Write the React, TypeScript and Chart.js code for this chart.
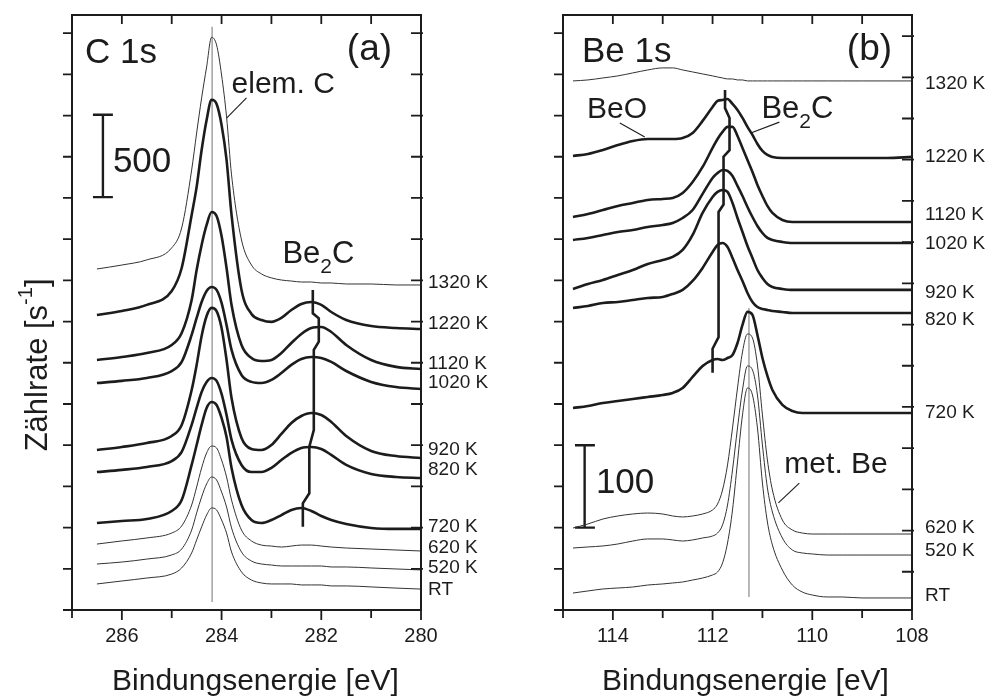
import React, { useEffect, useRef } from "react";
import { Chart, registerables } from "chart.js";

Chart.register(...registerables);

const FONT = "'Liberation Sans', Arial, Helvetica, sans-serif";
const INK = "#1c1c1c";

// ---------------- Panel (a): C 1s ----------------
const energyC = [286.5, 286.0, 285.5, 285.0, 284.8, 284.6, 284.5, 284.4, 284.3, 284.2, 284.1, 284.0, 283.9, 283.8, 283.6, 283.4, 283.2, 283.0, 282.8, 282.6, 282.4, 282.2, 282.0, 281.8, 281.5, 281.0, 280.5, 280.0];
const c1sRT = [158, 176, 194, 218, 255, 346, 425, 504, 576, 619, 607, 546, 467, 352, 231, 182, 164, 158, 158, 158, 152, 152, 152, 146, 146, 140, 133, 127];
const c1s520 = [279, 291, 309, 334, 370, 485, 589, 686, 765, 807, 789, 716, 625, 498, 352, 297, 279, 273, 267, 267, 267, 267, 267, 261, 261, 255, 249, 243];
const c1s620 = [400, 419, 437, 467, 510, 637, 746, 862, 953, 995, 983, 910, 807, 667, 485, 419, 394, 388, 382, 388, 394, 394, 388, 382, 376, 370, 364, 358];
const c1s720 = [528, 540, 552, 601, 667, 880, 1001, 1123, 1226, 1262, 1244, 1165, 1050, 862, 637, 546, 528, 546, 576, 607, 619, 601, 570, 546, 522, 498, 492, 492];
const c1s820 = [837, 850, 868, 904, 959, 1123, 1226, 1323, 1384, 1408, 1390, 1311, 1183, 1032, 880, 837, 837, 862, 910, 953, 983, 989, 977, 941, 880, 825, 807, 801];
const c1s920 = [971, 989, 1013, 1056, 1123, 1335, 1487, 1663, 1784, 1833, 1814, 1711, 1517, 1286, 1044, 977, 971, 1001, 1068, 1135, 1177, 1195, 1183, 1141, 1056, 965, 934, 922];
const c1s1020 = [1377, 1390, 1408, 1450, 1505, 1669, 1772, 1869, 1936, 1960, 1942, 1863, 1729, 1578, 1426, 1384, 1377, 1396, 1438, 1487, 1523, 1535, 1529, 1505, 1450, 1384, 1353, 1341];
const c1s1120 = [1517, 1535, 1559, 1608, 1681, 1881, 2063, 2215, 2336, 2415, 2391, 2269, 2075, 1851, 1608, 1529, 1511, 1517, 1559, 1620, 1675, 1711, 1717, 1687, 1608, 1517, 1475, 1462];
const c1s1220 = [1790, 1814, 1851, 1936, 2075, 2397, 2567, 2791, 2973, 3095, 3070, 2943, 2731, 2397, 1942, 1796, 1760, 1748, 1772, 1820, 1857, 1869, 1851, 1808, 1760, 1723, 1711, 1705];
const c1s1320 = [2069, 2093, 2124, 2197, 2318, 2670, 2894, 3107, 3295, 3475, 3428, 3246, 2992, 2640, 2245, 2093, 2039, 2015, 2002, 1996, 1990, 1990, 1984, 1984, 1978, 1978, 1972, 1972];

// Be2C peak-position marker (a)
const markerCE = [282.37, 282.37, 282.24, 282.24, 282.15, 282.15, 282.05, 282.05, 282.17, 282.17];
const markerCY = [505, 647, 708, 991, 1092, 1578, 1628, 1770, 1800, 1942];

// ---------------- Panel (b): Be 1s ----------------
const energyBe = [114.8, 114.5, 114.2, 113.9, 113.6, 113.3, 113.0, 112.8, 112.6, 112.4, 112.2, 112.0, 111.9, 111.8, 111.7, 111.6, 111.5, 111.4, 111.3, 111.2, 111.1, 111.0, 110.9, 110.8, 110.6, 110.4, 110.2, 110.0, 109.7, 109.4, 109.0, 108.5, 108.0];
const be1sRT = [20.6, 23.1, 25.5, 26.7, 27.9, 30.3, 31.6, 32.8, 34.0, 36.4, 38.8, 42.5, 46.1, 57.0, 81.3, 121.4, 179.6, 236.7, 269.4, 260.9, 220.9, 154.1, 106.8, 78.9, 48.5, 30.3, 21.8, 18.2, 15.8, 15.8, 14.6, 14.6, 14.6];
const be1s520 = [75.2, 76.5, 77.7, 80.1, 83.7, 86.2, 86.2, 85.0, 83.7, 85.0, 87.4, 89.8, 93.4, 103.2, 127.4, 169.9, 220.9, 267.0, 296.1, 291.3, 260.9, 200.2, 148.1, 118.9, 87.4, 72.8, 69.2, 68.0, 66.7, 66.7, 66.7, 66.7, 66.7];
const be1s620 = [99.5, 104.4, 110.4, 114.1, 116.5, 117.7, 116.5, 114.1, 112.9, 114.1, 116.5, 121.4, 128.6, 145.6, 176.0, 220.9, 269.4, 313.1, 335.0, 330.1, 297.3, 236.7, 182.0, 145.6, 109.2, 97.1, 93.4, 92.2, 92.2, 92.2, 92.2, 92.2, 92.2];
const be1s720 = [245.1, 247.6, 251.2, 253.6, 256.1, 258.5, 260.9, 263.4, 269.4, 282.8, 296.1, 303.4, 304.6, 303.4, 305.8, 309.5, 324.0, 345.9, 361.7, 358.0, 333.7, 305.8, 284.0, 267.0, 248.8, 241.5, 239.1, 239.1, 239.1, 239.1, 239.1, 239.1, 239.1];
const be1s820 = [366.5, 368.9, 372.6, 373.8, 376.2, 378.6, 379.9, 383.5, 388.4, 399.3, 415.1, 434.5, 443.0, 445.4, 440.5, 427.2, 412.6, 399.3, 384.7, 373.8, 367.7, 365.3, 364.1, 362.9, 361.7, 360.4, 360.4, 360.4, 360.4, 360.4, 360.4, 360.4, 360.4];
const be1s920 = [389.6, 395.6, 400.5, 406.6, 412.6, 419.9, 424.8, 428.4, 436.9, 455.1, 481.8, 501.2, 507.3, 509.7, 507.3, 493.9, 475.7, 458.7, 441.8, 427.2, 412.6, 402.9, 395.6, 392.0, 389.6, 388.4, 388.4, 388.4, 388.4, 388.4, 388.4, 388.4, 388.4];
const be1s1020 = [449.0, 451.5, 455.1, 458.7, 461.2, 464.8, 467.2, 469.7, 475.7, 485.4, 504.9, 524.3, 530.3, 534.0, 532.8, 526.7, 514.6, 502.4, 489.1, 476.9, 466.0, 457.5, 451.5, 449.0, 446.6, 445.4, 445.4, 445.4, 445.4, 445.4, 445.4, 445.4, 445.4];
const be1s1120 = [476.9, 480.6, 485.4, 490.3, 493.9, 497.6, 498.8, 500.0, 506.1, 519.4, 537.6, 560.7, 571.6, 580.1, 586.2, 586.2, 575.2, 560.7, 546.1, 531.6, 515.8, 502.4, 490.3, 481.8, 473.3, 470.9, 470.9, 470.9, 470.9, 470.9, 470.9, 470.9, 470.9];
const be1s1220 = [551.0, 553.4, 558.3, 564.3, 569.2, 571.6, 571.6, 571.6, 572.8, 578.9, 593.5, 610.4, 617.7, 618.9, 620.1, 614.1, 606.8, 597.1, 586.2, 576.5, 565.5, 557.0, 552.2, 549.8, 548.5, 548.5, 548.5, 548.5, 548.5, 548.5, 548.5, 548.5, 549.8];
const be1s1320 = [642.0, 643.2, 645.6, 648.1, 651.7, 655.3, 657.8, 657.8, 655.3, 652.9, 650.5, 648.1, 646.8, 645.6, 644.4, 644.4, 643.2, 643.2, 642.0, 642.0, 642.0, 642.0, 642.0, 642.0, 642.0, 642.0, 642.0, 642.0, 642.0, 642.0, 642.0, 642.0, 642.0];

const markerBeE = [112.0, 112.0, 111.88, 111.88, 111.78, 111.78, 111.66, 111.66, 111.75, 111.75];
const markerBeY = [288, 317, 331, 483, 492, 550, 558, 597, 609, 631];

// ---------------- labels / ticks ----------------
const tempLabels = ["1320 K", "1220 K", "1120 K", "1020 K", "920 K", "820 K", "720 K", "620 K", "520 K", "RT"];
const thickFlags = [false, true, true, true, true, true, true, false, false, false];
const c1sLabelY = [1984, 1735, 1493, 1377, 971, 850, 504, 376, 255, 121];
const be1sLabelY = [638, 550, 479, 444, 385, 352, 239, 100, 72, 17];
const c1sTickLabels = [286, 284, 282, 280];
const be1sTickLabels = [114, 112, 110, 108];
const c1sMinorTicks = [287, 286, 285, 284, 283, 282, 281, 280];
const be1sMinorTicks = [115, 114, 113, 112, 111, 110, 109, 108];
const xTitleText = "Bindungsenergie [eV]";

const c1sSeries = [c1s1320, c1s1220, c1s1120, c1s1020, c1s920, c1s820, c1s720, c1s620, c1s520, c1sRT];
const be1sSeries = [be1s1320, be1s1220, be1s1120, be1s1020, be1s920, be1s820, be1s720, be1s620, be1s520, be1sRT];

type Ann = { t: string; sub?: string; after?: string; x: number; y: number; size: number; align?: "left" | "right" };
type Seg = { pts: [number, number][]; w: number; color?: string };

const annC: Ann[] = [
  { t: "C 1s", x: 286.74, y: 3319, size: 35 },
  { t: "(a)", x: 280.58, y: 3337, size: 37, align: "right" },
  { t: "elem. C", x: 283.8, y: 3137, size: 30 },
  { t: "500", x: 286.18, y: 2658, size: 35 },
  { t: "Be", sub: "2", after: "C", x: 282.78, y: 2106, size: 31 },
];
const annBe: Ann[] = [
  { t: "Be 1s", x: 114.62, y: 665, size: 35 },
  { t: "(b)", x: 108.4, y: 667.5, size: 37, align: "right" },
  { t: "BeO", x: 114.52, y: 597, size: 30 },
  { t: "Be", sub: "2", after: "C", x: 111.02, y: 597, size: 31 },
  { t: "100", x: 114.34, y: 142, size: 35 },
  { t: "met. Be", x: 110.56, y: 166, size: 30 },
];

const segsC: Seg[] = [
  { pts: [[284.19, 48], [284.19, 3538]], w: 1.2, color: "#8a8a8a" },
  { pts: [[286.58, 3005], [286.18, 3005], [286.38, 3005], [286.38, 2505], [286.58, 2505], [286.18, 2505]], w: 2.4 },
  { pts: [[283.5, 3107], [283.9, 2985]], w: 1.1 },
];
const segsBe: Seg[] = [
  { pts: [[111.27, 15.8], [111.27, 366.5]], w: 1.2, color: "#8a8a8a" },
  { pts: [[114.76, 200], [114.36, 200], [114.566, 200], [114.566, 100], [114.76, 100], [114.36, 100]], w: 2.4 },
  { pts: [[113.86, 591], [113.36, 574]], w: 1.1 },
  { pts: [[110.66, 592], [111.22, 579]], w: 1.1 },
  { pts: [[110.26, 154], [110.68, 130]], w: 1.1 },
];

type PanelDef = {
  energy: number[];
  series: number[][];
  markerE: number[];
  markerY: number[];
  segs: Seg[];
  ann: Ann[];
  labelY: number[];
  labelGap: number;
  xMin: number;
  xMax: number;
  yMax: number;
  yStep: number;
  rightTickShift: number;
  tickLabels: number[];
  minorTicks: number[];
  padLeft: number;
  padRight: number;
  titleShift: number;
  yTitle?: { y: number };
};

function drawAnn(ctx: CanvasRenderingContext2D, a: Ann, px: number, py: number) {
  const main = `${a.size}px ${FONT}`;
  const subF = `${Math.round(a.size * 0.68)}px ${FONT}`;
  ctx.font = main;
  let total = ctx.measureText(a.t).width;
  if (a.sub) { ctx.font = subF; total += ctx.measureText(a.sub).width; ctx.font = main; }
  if (a.after) total += ctx.measureText(a.after).width;
  let x = a.align === "right" ? px - total : px;
  ctx.textAlign = "left";
  ctx.textBaseline = "alphabetic";
  ctx.fillText(a.t, x, py);
  x += ctx.measureText(a.t).width;
  if (a.sub) {
    ctx.font = subF;
    ctx.fillText(a.sub, x, py + a.size * 0.32);
    x += ctx.measureText(a.sub).width;
    ctx.font = main;
  }
  if (a.after) ctx.fillText(a.after, x, py);
}

function buildConfig(p: PanelDef): any {
  const datasets: any[] = [];
  p.series.forEach((vals, i) => {
    datasets.push({
      data: p.energy.map((x, j) => ({ x, y: vals[j] })),
      borderColor: thickFlags[i] ? INK : "#333",
      borderWidth: thickFlags[i] ? 2.6 : 1,
      pointRadius: 0,
      cubicInterpolationMode: "monotone",
      fill: false,
    });
  });
  datasets.push({
    data: p.markerE.map((x, j) => ({ x, y: p.markerY[j] })),
    borderColor: INK,
    borderWidth: 2.6,
    pointRadius: 0,
    tension: 0,
    fill: false,
  });
  p.segs.forEach((s) => {
    datasets.push({
      data: s.pts.map(([x, y]) => ({ x, y })),
      borderColor: s.color || INK,
      borderWidth: s.w,
      pointRadius: 0,
      tension: 0,
      fill: false,
    });
  });

  const yTicks: number[] = [];
  for (let v = 0; v <= p.yMax; v += p.yStep) yTicks.push(v);

  const framePlugin = {
    id: "frame",
    afterDatasetsDraw(chart: any) {
      const { ctx, chartArea: a, scales } = chart;
      const xs = scales.x;
      const ys = scales.y;
      ctx.save();
      ctx.strokeStyle = INK;
      ctx.lineWidth = 2;
      ctx.strokeRect(a.left, a.top, a.right - a.left, a.bottom - a.top);
      ctx.lineWidth = 1.8;
      ctx.beginPath();
      p.minorTicks.forEach((v) => {
        const px = xs.getPixelForValue(v);
        const major = p.tickLabels.includes(v);
        ctx.moveTo(px, a.bottom);
        ctx.lineTo(px, a.bottom + (major ? 10 : 8));
        ctx.moveTo(px, a.top);
        ctx.lineTo(px, a.top + 9);
      });
      yTicks.forEach((v) => {
        const py = ys.getPixelForValue(v);
        ctx.moveTo(a.left - 9, py);
        ctx.lineTo(a.left, py);
        const pr = ys.getPixelForValue(v - p.rightTickShift);
        if (v > 0 && pr > a.top + 2 && pr < a.bottom - 2) {
          ctx.moveTo(a.right - 10, pr);
          ctx.lineTo(a.right + 2, pr);
        }
      });
      ctx.stroke();

      ctx.fillStyle = INK;
      p.ann.forEach((an) => drawAnn(ctx, an, xs.getPixelForValue(an.x), ys.getPixelForValue(an.y)));

      ctx.font = `19px ${FONT}`;
      ctx.textAlign = "left";
      ctx.textBaseline = "middle";
      tempLabels.forEach((t, i) => {
        ctx.fillText(t, a.right + p.labelGap, ys.getPixelForValue(p.labelY[i]));
      });

      // x-axis title
      ctx.font = `30px ${FONT}`;
      ctx.textAlign = "center";
      ctx.textBaseline = "middle";
      ctx.fillText(xTitleText, (a.left + a.right) / 2 + p.titleShift, a.bottom + 72);

      if (p.yTitle) {
        const cy = ys.getPixelForValue(p.yTitle.y);
        ctx.save();
        ctx.translate(a.left - 34, cy);
        ctx.rotate(-Math.PI / 2);
        const mainF = `31px ${FONT}`;
        const supF = `20px ${FONT}`;
        const p1 = "Zählrate [s";
        const p2 = "-1";
        const p3 = "]";
        ctx.font = mainF;
        const w1 = ctx.measureText(p1).width;
        const w3 = ctx.measureText(p3).width;
        ctx.font = supF;
        const w2 = ctx.measureText(p2).width;
        const total = w1 + w2 + w3;
        let x = -total / 2;
        ctx.textBaseline = "middle";
        ctx.textAlign = "left";
        ctx.font = mainF;
        ctx.fillText(p1, x, 0);
        x += w1;
        ctx.font = supF;
        ctx.fillText(p2, x, -12);
        x += w2;
        ctx.font = mainF;
        ctx.fillText(p3, x, 0);
        ctx.restore();
      }
      ctx.restore();
    },
  };

  return {
    type: "line",
    data: { datasets },
    options: {
      animation: false,
      responsive: false,
      devicePixelRatio: 1,
      layout: { padding: { left: p.padLeft, right: p.padRight, top: 15, bottom: 0 } },
      plugins: { legend: { display: false }, tooltip: { enabled: false } },
      scales: {
        x: {
          type: "linear",
          min: p.xMin,
          max: p.xMax,
          reverse: true,
          afterBuildTicks: (s: any) => {
            s.ticks = p.tickLabels.map((v) => ({ value: v }));
          },
          afterFit: (s: any) => {
            s.height = 90;
          },
          grid: { display: false, drawTicks: false },
          border: { display: false },
          ticks: {
            autoSkip: false,
            maxRotation: 0,
            padding: 14,
            color: INK,
            font: { family: FONT, size: 20 },
            callback: (v: any) => String(v),
          },
          title: { display: false },
        },
        y: { type: "linear", display: false, min: 0, max: p.yMax },
      },
    },
    plugins: [framePlugin],
  };
}

const panelC: PanelDef = {
  energy: energyC,
  series: c1sSeries,
  markerE: markerCE,
  markerY: markerCY,
  segs: segsC,
  ann: annC,
  labelY: c1sLabelY,
  labelGap: 7,
  xMin: 280,
  xMax: 287,
  yMax: 3610,
  yStep: 250,
  rightTickShift: 0,
  tickLabels: c1sTickLabels,
  minorTicks: c1sMinorTicks,
  padLeft: 72,
  padRight: 79,
  titleShift: 9,
  yTitle: { y: 1487 },
};

const panelBe: PanelDef = {
  energy: energyBe,
  series: be1sSeries,
  markerE: markerBeE,
  markerY: markerBeY,
  segs: segsBe,
  ann: annBe,
  labelY: be1sLabelY,
  labelGap: 13,
  xMin: 108,
  xMax: 115,
  yMax: 722,
  yStep: 50,
  rightTickShift: 3.6,
  tickLabels: be1sTickLabels,
  minorTicks: be1sMinorTicks,
  padLeft: 63,
  padRight: 91,
  titleShift: 8,
};

function Panel({ def, left, width }: { def: PanelDef; left: number; width: number }) {
  const ref = useRef<HTMLCanvasElement>(null);
  useEffect(() => {
    if (!ref.current) return;
    const chart = new Chart(ref.current, buildConfig(def));
    return () => chart.destroy();
  }, [def]);
  return (
    <canvas
      ref={ref}
      width={width}
      height={700}
      style={{ position: "absolute", left, top: 0, width, height: 700 }}
    />
  );
}

export default function App() {
  useEffect(() => {
    document.body.style.margin = "0";
  }, []);
  return (
    <div style={{ position: "fixed", left: 0, top: 0, width: 1003, height: 700, background: "#fff" }}>
      <Panel def={panelC} left={0} width={500} />
      <Panel def={panelBe} left={500} width={503} />
    </div>
  );
}
